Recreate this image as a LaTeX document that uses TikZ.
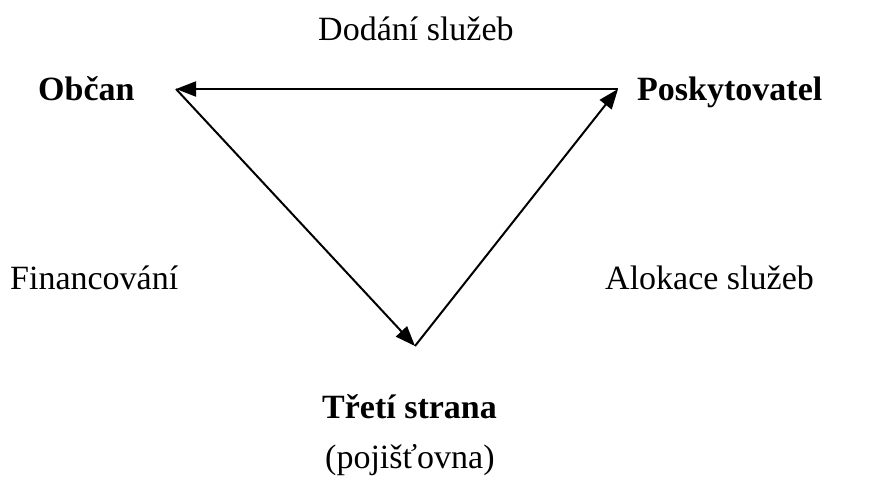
\documentclass[tikz,border=0pt]{standalone}
\usepackage{fontspec}
\setmainfont{Liberation Serif}
\usetikzlibrary{arrows.meta}
\begin{document}
\begin{tikzpicture}[x=1pt,y=-1pt,
  lbl/.style={anchor=base west, inner sep=0pt, font=\fontsize{34}{40}\selectfont},
  blbl/.style={anchor=base west, inner sep=0pt, font=\fontsize{34}{40}\selectfont\bfseries},
  conn/.style={line width=2pt, -{Triangle[length=20pt,width=15pt]}}]
\useasboundingbox (0,0) rectangle (872,484);
\coordinate (A) at (176,89);
\coordinate (B) at (618,89);
\coordinate (C) at (415,346);
\node[lbl] (dod) at (318,41) {Dodání služeb};
\node[blbl] (obc) at (38,101) {Občan};
\node[blbl] (pos) at (637,101) {Poskytovatel};
\node[lbl] (fin) at (10,289) {Financování};
\node[lbl] (alo) at (605,289) {Alokace služeb};
\node[blbl] (tre) at (322,418) {Třetí strana};
\node[lbl] (poj) at (325,468) {(pojišťovna)};
\draw[conn] (B) -- (A);
\draw[conn] (A) -- (C);
\draw[conn] (C) -- (B);
\end{tikzpicture}
\end{document}
